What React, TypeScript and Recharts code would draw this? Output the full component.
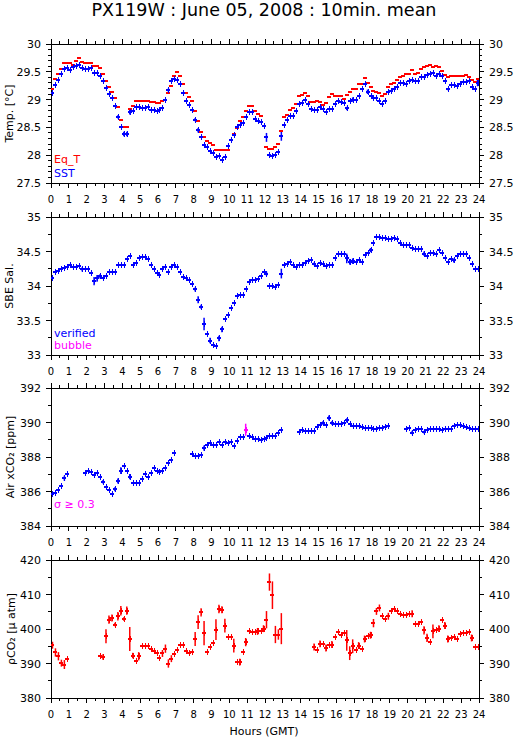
import { ScatterChart, Scatter, XAxis, YAxis, ErrorBar } from 'recharts';

// 10-minute means, index i -> hour (i + 0.5) / 6
const sst = [
  29.11, 29.27, 29.36, 29.46, 29.55, 29.56, 29.54, 29.58, 29.61, 29.63, 29.57, 29.55,
  29.55, 29.56, 29.48, 29.48, 29.43, 29.33, 29.20, 29.10, 29.02, 28.89, 28.69, 28.51,
  28.38, 28.38, 28.78, 28.80, 28.87, 28.87, 28.84, 28.84, 28.86, 28.81, 28.81, 28.80,
  28.82, 28.84, 28.99, 29.17, 29.33, 29.37, 29.36, 29.28, 29.11, 28.98, 28.90, 28.81,
  28.64, 28.45, 28.32, 28.19, 28.14, 28.07, 28.04, 27.97, 27.98, 27.91, 27.97, 28.16,
  28.27, 28.36, 28.51, 28.54, 28.58, 28.69, 28.77, 28.78, 28.66, 28.62, 28.60, 28.52,
  28.32, 28.00, 27.98, 28.00, 28.06, 28.34, 28.55, 28.63, 28.70, 28.70, 28.80, 28.92,
  28.93, 28.99, 28.92, 28.83, 28.81, 28.81, 28.86, 28.83, 28.77, 28.83, 28.83, 28.92,
  28.98, 28.95, 28.94, 28.84, 28.98, 29.00, 29.00, 29.07, 29.19, 29.28, 29.14, 29.07,
  29.02, 29.02, 28.98, 28.92, 28.98, 29.14, 29.16, 29.19, 29.22, 29.30, 29.30, 29.28,
  29.33, 29.36, 29.33, 29.34, 29.40, 29.40, 29.45, 29.46, 29.48, 29.43, 29.46, 29.42,
  29.34, 29.19, 29.27, 29.27, 29.25, 29.28, 29.31, 29.31, 29.33, 29.23, 29.19, 29.30,
];
const sstErr: Record<number, number> = {
  22: 0.03, 24: 0.04, 25: 0.04, 26: 0.05, 39: 0.03, 48: 0.03, 49: 0.04,
  72: 0.08, 77: 0.08, 99: 0.03, 101: 0.04, 106: 0.04, 133: 0.02, 143: 0.06,
};

const eqT = [
  29.19, 29.37, 29.46, 29.55, 29.66, 29.66, 29.66, 29.63, 29.70, 29.74, 29.67, 29.66,
  29.66, 29.66, 29.61, 29.61, 29.57, 29.46, 29.33, 29.22, 29.14, 29.02, 28.86, 28.64,
  28.51, 28.50, 28.83, 28.89, 28.98, 28.98, 28.98, 28.98, 28.98, 28.95, 28.95, 28.93,
  28.93, 28.98, 29.00, 29.11, 29.25, 29.43, 29.49, 29.42, 29.28, 29.11, 29.05, 28.98,
  28.80, 28.61, 28.41, 28.32, 28.26, 28.22, 28.19, 28.10, 28.10, 28.10, 28.10, 28.10,
  28.27, 28.39, 28.49, 28.62, 28.68, 28.80, 28.89, 28.89, 28.80, 28.74, 28.70, 28.52,
  28.14, 28.12, 28.12, 28.14, 28.20, 28.44, 28.68, 28.72, 28.81, 28.84, 28.92, 29.07,
  29.08, 29.11, 29.07, 28.96, 28.95, 28.98, 28.95, 28.90, 28.93, 29.04, 29.10, 29.07,
  29.07, 29.07, 29.01, 29.08, 29.14, 29.19, 29.19, 29.28, 29.28, 29.39, 29.30, 29.22,
  29.16, 29.14, 29.11, 29.07, 29.10, 29.23, 29.28, 29.30, 29.36, 29.40, 29.43, 29.46,
  29.46, 29.54, 29.46, 29.48, 29.55, 29.58, 29.60, 29.63, 29.58, 29.60, 29.58, 29.51,
  29.45, 29.40, 29.43, 29.43, 29.43, 29.43, 29.43, 29.45, 29.40, 29.35, 29.31, 29.37,
];

const salinity = [
  34.12, 34.20, 34.22, 34.24, 34.26, 34.28, 34.30, 34.27, 34.28, 34.29, 34.24, 34.25,
  34.24, 34.19, 34.07, 34.11, 34.14, 34.11, 34.14, 34.20, 34.20, 34.21, 34.31, 34.31,
  34.31, 34.39, 34.43, 34.30, 34.34, 34.41, 34.42, 34.42, 34.39, 34.30, 34.25, 34.19,
  34.16, 34.24, 34.27, 34.20, 34.27, 34.31, 34.28, 34.20, 34.13, 34.11, 34.08, 34.03,
  33.95, 33.80, 33.70, 33.45, 33.31, 33.21, 33.15, 33.13, 33.24, 33.37, 33.52, 33.58,
  33.68, 33.76, 33.85, 33.87, 33.87, 33.96, 34.06, 34.08, 34.08, 34.10, 34.15, 34.21,
  34.18, 34.00, 34.00, 33.99, 34.02, 34.18, 34.31, 34.32, 34.35, 34.30, 34.28, 34.31,
  34.31, 34.34, 34.36, 34.37, 34.32, 34.29, 34.34, 34.32, 34.29, 34.30, 34.30, 34.41,
  34.47, 34.46, 34.47, 34.40, 34.35, 34.36, 34.35, 34.38, 34.35, 34.45, 34.48, 34.52,
  34.63, 34.71, 34.71, 34.70, 34.69, 34.68, 34.68, 34.70, 34.68, 34.62, 34.60, 34.60,
  34.59, 34.55, 34.54, 34.54, 34.54, 34.47, 34.44, 34.48, 34.48, 34.46, 34.52, 34.48,
  34.41, 34.35, 34.39, 34.37, 34.43, 34.47, 34.47, 34.46, 34.41, 34.32, 34.24, 34.24,
];
const salErr: Record<number, number> = {
  10: 0.03, 14: 0.06, 15: 0.05, 16: 0.03, 48: 0.03, 49: 0.05, 50: 0.03, 51: 0.09,
  53: 0.04, 56: 0.04, 57: 0.04, 72: 0.03, 77: 0.07, 88: 0.02, 99: 0.07, 100: 0.04,
  101: 0.04, 107: 0.03, 125: 0.03, 135: 0.03,
};

const n = null;
const airXco2 = [
  385.86, 385.93, 386.09, 386.32, 386.77, 387.00, n, n, n, n, n, 387.06,
  387.21, 387.14, 386.96, 387.06, 386.83, 386.57, 386.28, 386.09, 385.84, 386.13, 386.61, 387.21,
  387.48, 387.16, 386.86, 386.52, 386.48, 386.48, 386.71, 387.00, 386.86, 387.10, 387.39, 387.21,
  387.12, 387.21, 387.39, 387.68, 387.83, 388.26, n, n, n, n, n, 388.16,
  388.07, 388.07, 388.09, 388.51, 388.67, 388.80, 388.71, 388.71, 388.86, 388.71, 388.86, 388.80,
  388.86, 388.61, 388.90, 389.15, 389.15, 389.58, 389.19, 389.15, 389.07, 389.05, 389.00, 389.05,
  389.10, 389.19, 389.19, 389.19, 389.42, 389.58, n, n, n, n, n, 389.44,
  389.58, 389.52, 389.52, 389.52, 389.52, 389.73, 389.87, 389.97, 389.87, 390.26, 389.97, 389.93,
  389.93, 389.91, 390.00, 390.12, 389.91, 389.81, 389.81, 389.77, 389.73, 389.67, 389.71, 389.67,
  389.62, 389.64, 389.67, 389.67, 389.73, 389.81, n, n, n, n, n, 389.64,
  389.67, 389.42, 389.58, 389.64, 389.64, 389.44, 389.58, 389.64, 389.64, 389.64, 389.64, 389.58,
  389.64, 389.64, 389.64, 389.77, 389.83, 389.87, 389.81, 389.73, 389.67, 389.64, 389.64, 389.64,
];
const xco2Err: Record<number, number> = {
  4: 0.15, 17: 0.1, 21: 0.12, 22: 0.15, 23: 0.2, 26: 0.15, 51: 0.15, 65: 0.35,
  91: 0.1, 93: 0.15, 94: 0.1, 99: 0.12, 121: 0.1, 125: 0.08,
};
const xco2Flagged = [65];

const pco2 = [
  395.3, 393.2, 392.1, 390.1, 389.7, 391.4, n, n, n, n, n, n,
  n, n, n, n, 392.1, 391.9, 397.9, 402.7, 403.2, 401.3, 403.7, 405.3,
  402.9, 405.3, 397.1, 392.3, 390.8, 392.1, 395.2, 395.2, 395.0, 394.3, 393.5, 393.0,
  391.6, 392.9, 394.3, 390.0, 391.4, 392.8, 394.0, 395.5, 395.3, 393.7, 393.0, 393.3,
  397.1, 402.0, 404.8, 398.8, 393.3, 394.8, 395.9, 399.8, 405.8, 405.6, 401.0, 397.7,
  397.7, 395.2, 390.4, 390.4, 393.3, 396.2, 399.5, 399.1, 399.0, 399.3, 399.3, 400.1,
  402.7, 413.6, 409.8, 398.4, 398.4, 400.1, n, n, n, n, n, n,
  n, n, n, n, 394.8, 394.0, 395.7, 395.7, 394.5, 395.5, 395.5, 397.6,
  399.0, 398.2, 398.8, 396.7, 393.0, 395.0, 394.0, 395.2, 394.2, 397.1, 398.1, 398.2,
  401.7, 405.1, 406.1, 403.7, 402.9, 403.7, 405.1, 405.9, 405.1, 404.4, 404.2, 404.2,
  404.4, 404.4, 401.5, 401.5, 401.9, 399.6, 397.4, 396.2, 399.3, 399.8, 400.1, 402.7,
  401.0, 397.1, 397.4, 397.7, 397.1, 398.6, 398.8, 398.8, 399.1, 397.4, 394.8, 394.8,
];
const pco2Err: Record<number, number> = {
  0: 1.0, 1: 1.2, 2: 1.2, 3: 1.0, 4: 1.3, 17: 0.8, 18: 2.0, 19: 1.2, 20: 1.0, 21: 0.5,
  22: 1.2, 23: 1.4, 24: 0.5, 25: 1.2, 26: 3.5, 27: 0.8, 29: 1.2, 37: 1.0, 38: 1.2,
  39: 1.2, 40: 1.0, 48: 2.0, 49: 2.0, 50: 1.2, 51: 3.5, 55: 3.0, 56: 1.2, 57: 1.0,
  58: 2.0, 61: 2.0, 63: 1.0, 65: 1.2, 69: 1.0, 71: 1.0, 72: 2.5, 73: 2.5, 74: 4.0,
  75: 2.5, 76: 1.5, 77: 4.5, 88: 1.0, 90: 1.0, 92: 1.0, 94: 1.0, 99: 3.0, 100: 2.0,
  101: 2.0, 103: 1.0, 105: 1.0, 107: 1.0, 108: 1.2, 109: 1.0, 110: 1.0, 113: 1.0,
  121: 1.0, 125: 1.2, 126: 1.2, 128: 2.0, 130: 1.0, 132: 1.0, 133: 1.0, 141: 1.0,
};

const tempLabels = [27.5, 28, 28.5, 29, 29.5, 30];
const salLabels = [33, 33.5, 34, 34.5, 35];
const xco2Labels = [384, 386, 388, 390, 392];
const pco2Labels = [380, 390, 400, 410, 420];

const FONT = '"DejaVu Sans", "Liberation Sans", Arial, sans-serif';
const BLUE = '#0000ff';
const RED = '#ff0000';
const MAGENTA = '#ff00ff';

type Pt = { h: number; v: number; e: number };

const build = (values: (number | null)[], errs: Record<number, number> = {}, keep?: (i: number) => boolean): Pt[] => {
  const out: Pt[] = [];
  values.forEach((v, i) => {
    if (v == null) return;
    if (keep && !keep(i)) return;
    out.push({ h: (i + 0.5) / 6, v, e: errs[i] ?? 0 });
  });
  return out;
};

const steps = (lo: number, hi: number, step: number) => {
  const res: number[] = [];
  for (let k = 0; lo + k * step <= hi + 1e-9; k++) res.push(Math.round((lo + k * step) * 1000) / 1000);
  return res;
};

const hourTicks = steps(0, 24, 0.5);

const crossShape = (color: string, vertical: boolean) => (props: any) => {
  const { cx, cy } = props;
  if (cx == null || cy == null) return <g />;
  const x = Math.round(cx);
  const y = Math.round(cy);
  return (
    <g shapeRendering="crispEdges">
      <line x1={x - 2} x2={x + 2} y1={y} y2={y} stroke={color} strokeWidth={2} />
      {vertical && <line x1={x} x2={x} y1={y - 3} y2={y + 3} stroke={color} strokeWidth={1} />}
    </g>
  );
};

const makeXTick = (side: 'top' | 'bottom') => (props: any) => {
  const { x, y, payload } = props;
  const v = payload.value;
  const major = Number.isInteger(v);
  const len = major ? 5 : 3;
  const dir = side === 'top' ? -1 : 1;
  return (
    <g>
      <line x1={x} x2={x} y1={y} y2={y + dir * len} stroke="#000" shapeRendering="crispEdges" />
      {side === 'bottom' && major && (
        <text x={x} y={y + 20} textAnchor="middle" fontSize={10} fontFamily={FONT} fill="#000">
          {v}
        </text>
      )}
    </g>
  );
};

const makeYTick = (side: 'left' | 'right', majors: number[]) => (props: any) => {
  const { x, y, payload } = props;
  const v = payload.value;
  const major = majors.some((m) => Math.abs(m - v) < 1e-6);
  const dir = side === 'left' ? -1 : 1;
  const len = major ? 5 : 3;
  return (
    <g>
      <line x1={x} x2={x + dir * len} y1={y} y2={y} stroke="#000" shapeRendering="crispEdges" />
      {major && (
        <text x={x + dir * 10} y={y + 4} textAnchor={side === 'left' ? 'end' : 'start'} fontSize={11} fontFamily={FONT} fill="#000">
          {v}
        </text>
      )}
    </g>
  );
};

const axisLine = { stroke: '#000', strokeWidth: 1, shapeRendering: 'crispEdges' };

type PanelProps = {
  plotTop: number;
  plotBottom: number;
  domain: [number, number];
  majors: number[];
  minorStep: number;
  children: any;
};

const Panel = ({ plotTop, plotBottom, domain, majors, minorStep, children }: PanelProps) => {
  const yTicks = steps(domain[0], domain[1], minorStep);
  const h = plotBottom - plotTop + 35;
  return (
    <div style={{ position: 'absolute', left: 0, top: plotTop - 10 }}>
      <ScatterChart width={515} height={h} margin={{ top: 0, right: 0, bottom: 0, left: 0 }}>
        <XAxis xAxisId="top" orientation="top" type="number" dataKey="h" domain={[0, 24]} ticks={hourTicks}
          interval={0} height={10} tickSize={0} tickMargin={0} axisLine={axisLine} tickLine={false}
          tick={makeXTick('top')} allowDataOverflow />
        <XAxis xAxisId="bot" orientation="bottom" type="number" dataKey="h" domain={[0, 24]} ticks={hourTicks}
          interval={0} height={25} tickSize={0} tickMargin={0} axisLine={axisLine} tickLine={false}
          tick={makeXTick('bottom')} allowDataOverflow />
        <YAxis yAxisId="l" orientation="left" type="number" dataKey="v" domain={domain} ticks={yTicks}
          interval={0} width={51} tickSize={0} tickMargin={0} axisLine={axisLine} tickLine={false}
          tick={makeYTick('left', majors)} allowDataOverflow />
        <YAxis yAxisId="r" orientation="right" type="number" dataKey="v" domain={domain} ticks={yTicks}
          interval={0} width={36} tickSize={0} tickMargin={0} axisLine={axisLine} tickLine={false}
          tick={makeYTick('right', majors)} allowDataOverflow />
        {children}
      </ScatterChart>
    </div>
  );
};

const series = (data: Pt[], color: string, vertical: boolean, withErr: boolean, key: string) => (
  <Scatter key={key} xAxisId="bot" yAxisId="l" data={data} dataKey="v" isAnimationActive={false}
    shape={crossShape(color, vertical)}>
    {withErr && (
      <ErrorBar dataKey="e" direction="y" width={0} stroke={color} strokeWidth={1.5} isAnimationActive={false} />
    )}
  </Scatter>
);

export default function App() {
  const sstData = build(sst, sstErr);
  const eqTData = build(eqT);
  const salData = build(salinity, salErr);
  const xco2Ok = build(airXco2, xco2Err, (i) => !xco2Flagged.includes(i));
  const xco2Bad = build(airXco2, xco2Err, (i) => xco2Flagged.includes(i));
  const pco2Data = build(pco2, pco2Err);

  return (
    <div style={{ position: 'absolute', left: 0, top: 0, width: 515, height: 739, background: '#fff', overflow: 'hidden' }}>
      <Panel plotTop={44} plotBottom={183} domain={[27.5, 30]} majors={tempLabels} minorStep={0.1}>
        {series(eqTData, RED, false, false, 'eq')}
        {series(sstData, BLUE, true, true, 'sst')}
      </Panel>
      <Panel plotTop={217} plotBottom={355} domain={[33, 35]} majors={salLabels} minorStep={0.25}>
        {series(salData, BLUE, true, true, 'sal')}
      </Panel>
      <Panel plotTop={388} plotBottom={526} domain={[384, 392]} majors={xco2Labels} minorStep={1}>
        {series(xco2Ok, BLUE, true, true, 'ok')}
        {series(xco2Bad, MAGENTA, true, true, 'bad')}
      </Panel>
      <Panel plotTop={560} plotBottom={698} domain={[380, 420]} majors={pco2Labels} minorStep={5}>
        {series(pco2Data, RED, true, true, 'pco2')}
      </Panel>

      <svg width={515} height={739} style={{ position: 'absolute', left: 0, top: 0, pointerEvents: 'none' }}>
        <g fontFamily={FONT} fill="#000">
          <text x={264} y={16} textAnchor="middle" fontSize={17.5}>PX119W : June 05, 2008 : 10min. mean</text>
          <text transform="translate(13,113.5) rotate(-90)" textAnchor="middle" fontSize={11}>Temp. [°C]</text>
          <text transform="translate(13,286) rotate(-90)" textAnchor="middle" fontSize={11}>SBE Sal.</text>
          <text transform="translate(14,457) rotate(-90)" textAnchor="middle" fontSize={11}>Air xCO₂ [ppm]</text>
          <text transform="translate(15,629) rotate(-90)" textAnchor="middle" fontSize={11}>ρCO₂ [μ atm]</text>
          <text x={264} y={735} textAnchor="middle" fontSize={11}>Hours (GMT)</text>
        </g>
        <g fontFamily={FONT} fontSize={11}>
          <text x={54} y={163} fill={RED}>Eq_T</text>
          <text x={54} y={177} fill={BLUE}>SST</text>
          <text x={54} y={337} fill={BLUE}>verified</text>
          <text x={54} y={349} fill={MAGENTA}>bubble</text>
          <text x={54} y={508} fill={MAGENTA}>σ ≥ 0.3</text>
        </g>
      </svg>
    </div>
  );
}
